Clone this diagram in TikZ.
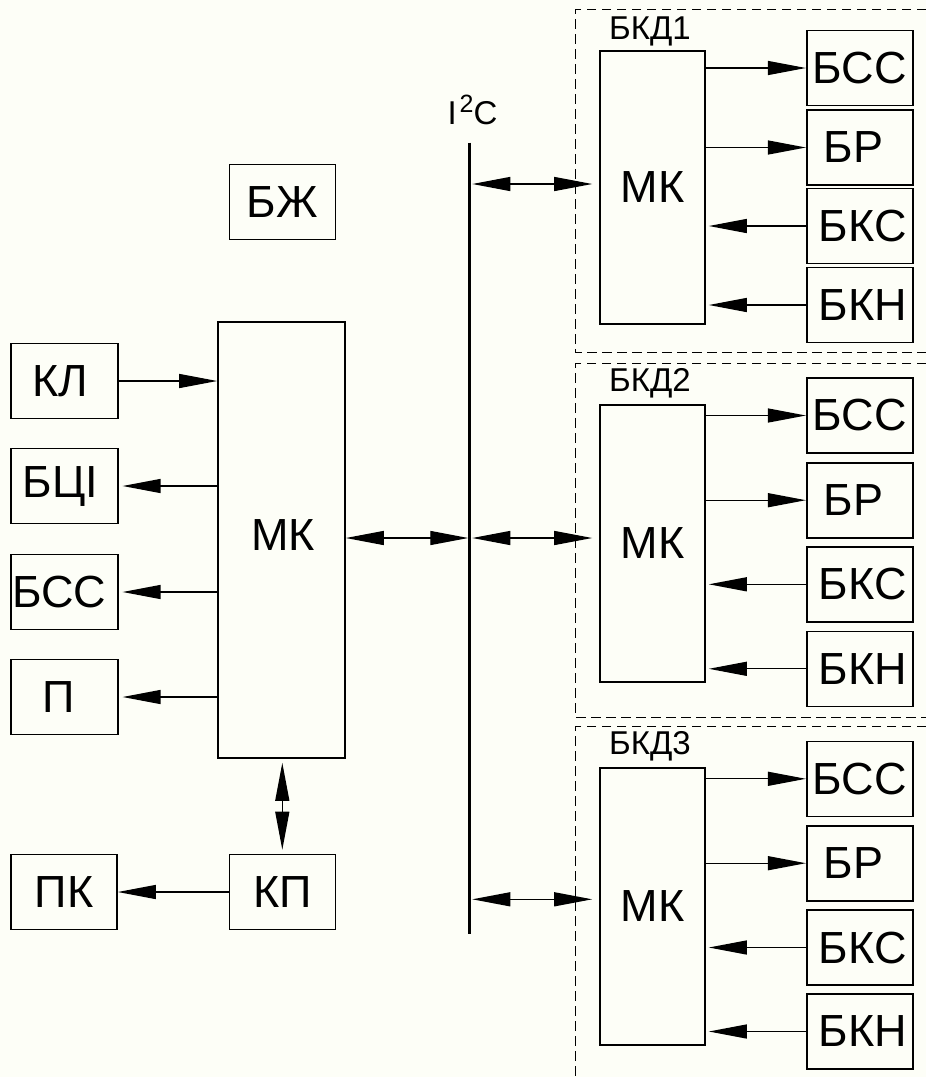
\documentclass[tikz,border=0pt]{standalone}
\usepackage{fontspec}
\setmainfont{Liberation Sans}
\usetikzlibrary{arrows.meta}
\definecolor{bg}{RGB}{253,254,247}
\begin{document}
\begin{tikzpicture}[x=1pt,y=-1pt,
  >={Triangle[length=38pt,width=14pt]},
  blk/.style={draw, line width=1.6pt, inner sep=0pt, minimum width=106, minimum height=75,
    font=\fontsize{45}{48}\selectfont},
  conn/.style={line width=1.3pt},
  grp/.style={line width=1.4pt, dash pattern=on 9.5pt off 5.5pt},
  grplabel/.style={inner sep=0pt, font=\fontsize{33}{36}\selectfont},
  bus/.style={line width=3.5pt}]
\useasboundingbox (0,0) rectangle (926,1077);
\fill[bg] (0,0) rectangle (926,1077);

% left part
\node[blk, minimum width=127, minimum height=436] (mk) at (281.5,540) {};
\node[font=\fontsize{45}{48}\selectfont, inner sep=0pt] (mkt) at (283,535) {МК};
\node[blk] (bzh) at (282.5,202) {БЖ};
\node[blk, minimum width=107] (kl) at (64.3,381) {\hspace*{-8pt}КЛ};
\node[blk, minimum width=107] (bci) at (64.3,486) {\hspace*{-8pt}БЦІ};
\node[blk, minimum width=107] (bssl) at (64.3,592) {\hspace*{-10pt}БСС};
\node[blk, minimum width=107] (pp) at (64.3,697) {\hspace*{-12pt}П};
\node[blk] (pk) at (64,892) {ПК};
\node[blk] (kp) at (282.3,892) {КП};

\draw[conn,->] (kl.east) -- (kl.east -| mk.west);
\draw[conn,->,shorten >=4pt] (mk.west |- bci.east) -- (bci.east);
\draw[conn,->,shorten >=4pt] (mk.west |- bssl.east) -- (bssl.east);
\draw[conn,->,shorten >=4pt] (mk.west |- pp.east) -- (pp.east);
\draw[conn,<->,shorten <=4pt,shorten >=4pt] (kp.north |- mk.south) -- (kp.north);
\draw[conn,->] (kp.west) -- (pk.east);

% bus
\coordinate (bt) at (469.3,142.7);
\coordinate (bb) at (469.3,934.3);
\draw[bus] (bt) -- (bb);
\node[inner sep=0pt, anchor=base, font=\fontsize{33}{36}\selectfont] (i2c) at (472.5,124)
  {I\hspace{3pt}\raisebox{12pt}{\fontsize{25}{25}\selectfont 2}C};
\coordinate (b0) at (469.3,538);
\coordinate (b1) at (469.3,184);
\coordinate (b2) at (469.3,538);
\coordinate (b3) at (469.3,899.3);
\draw[conn,<->,shorten >=1pt] (mk.east |- b0) -- (b0);

% dashed group frames
\draw[grp] (926,9.3) -| (575.7,352.5) -- (926,352.5);
\draw[grp] (926,363.3) -| (575.7,717.7) -- (926,717.7);
\draw[grp] (926,726.5) -| (575.7,1077);

% groups
\foreach \g/\lab/\mt/\mb/\ya/\yb/\yc/\yd in {
  1/31.5/51/324/68/147.5/226/305,
  2/383.3/405/682/415.5/500.2/584.3/668.8,
  3/746.5/768/1045/778.8/863.2/947.5/1031.5}{
  \node[grplabel] (lab\g) at (650,\lab) {БКД\g};
  \node[blk, minimum width=105, minimum height={\mb-\mt}] (mk\g) at (652.5,{(\mt+\mb)/2}) {МК};
  \node[blk] (bss\g) at (859.7,\ya) {БСС};
  \node[blk] (br\g) at (859.7,\yb) {\hspace*{-12pt}БР};
  \node[blk] (bks\g) at (859.7,\yc) {\hspace*{6pt}БКС};
  \node[blk] (bkn\g) at (859.7,\yd) {\hspace*{6pt}БКН};
  \draw[conn,->] (mk\g.east |- bss\g.west) -- (bss\g.west);
  \draw[conn,->] (mk\g.east |- br\g.west) -- (br\g.west);
  \draw[conn,->,shorten >=3pt] (bks\g.west) -- (bks\g.west -| mk\g.east);
  \draw[conn,->,shorten >=3pt] (bkn\g.west) -- (bkn\g.west -| mk\g.east);
  \draw[conn,<->,shorten <=3pt,shorten >=7pt] (b\g) -- (b\g -| mk\g.west);
}
\end{tikzpicture}
\end{document}
